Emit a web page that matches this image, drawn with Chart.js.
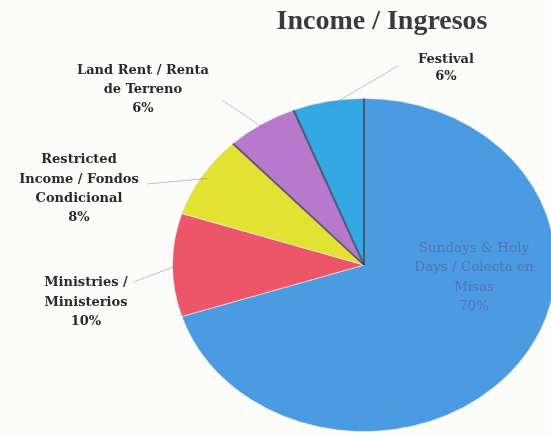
<!DOCTYPE html>
<html>
<head>
<meta charset="utf-8">
<script src="https://cdn.jsdelivr.net/npm/chart.js@4"></script>
<style>
	html, body { margin: 0; padding: 0; background: #fcfcfb; overflow: hidden; }
	#wrap { width: 600px; height: 500px; }
</style>
</head>
<body>
<div id="wrap"><canvas id="pieChart" width="600" height="500"></canvas></div>
<script>
// data
var categories = [ "Sundays & Holy Days / Colecta en Misas", "Ministries / Ministerios",
		"Restricted Income / Fondos Condicional", "Land Rent / Renta de Terreno", "Festival" ];
var shares = [ 70, 10, 8, 6, 6 ];
var labelLines = [ [ "Sundays & Holy", "Days / Colecta en", "Misas" ],
		[ "Ministries /", "Ministerios" ],
		[ "Restricted", "Income / Fondos", "Condicional" ],
		[ "Land Rent / Renta", "de Terreno" ],
		[ "Festival" ] ];
var chartTitle = "Income / Ingresos";

// layout of the label blocks (center x, first line y, line step) and leader line ends
var labelPos = [
	{ x : 474, y : 248, step : 19.5, inside : true },
	{ x : 86, y : 283, step : 19.5, lx : 134, ly : 282 },
	{ x : 79, y : 160, step : 19.3, lx : 147, ly : 184 },
	{ x : 143, y : 71, step : 19, lx : 222, ly : 100 },
	{ x : 446, y : 60, step : 17, lx : 398, ly : 66 }
];
var colors = [ '#4b9be2', '#ec5668', '#e2e232', '#b878cc', '#33a8e2' ];
var darkEdges = [ 0, 3, 4 ]; // slices whose starting edge shows a dark line in the scan
var squash = 0.87; // the scanned pie is a bit flatter than a circle

var ellipsePlugin = {
	id : 'ellipse',
	beforeDatasetsDraw : function(chart) {
		var arc = chart.getDatasetMeta(0).data[0];
		var ctx = chart.ctx;
		ctx.save();
		ctx.translate(arc.x, arc.y);
		ctx.scale(1, squash);
		ctx.translate(-arc.x, -arc.y);
	},
	afterDatasetsDraw : function(chart) {
		var ctx = chart.ctx;
		var meta = chart.getDatasetMeta(0);
		ctx.strokeStyle = 'rgba(40, 60, 80, 0.75)';
		ctx.lineWidth = 2;
		darkEdges.forEach(function(i) {
			var el = meta.data[i];
			ctx.beginPath();
			ctx.moveTo(el.x, el.y);
			ctx.lineTo(el.x + el.outerRadius * Math.cos(el.startAngle), el.y + el.outerRadius * Math.sin(el.startAngle));
			ctx.stroke();
		});
		ctx.restore();
	}
};

var labelPlugin = {
	id : 'sliceLabels',
	afterDraw : function(chart) {
		var ctx = chart.ctx;
		var meta = chart.getDatasetMeta(0);
		ctx.save();
		ctx.textAlign = 'center';
		ctx.textBaseline = 'middle';

		// title
		ctx.fillStyle = '#3b3b3b';
		ctx.font = 'bold 28px "Liberation Serif", serif';
		ctx.fillText(chartTitle, 382, 22);

		for (var i = 0; i < shares.length; i++) {
			var el = meta.data[i];
			var p = labelPos[i];
			var lines = labelLines[i].concat([ shares[i] + "%" ]);
			if (p.inside) {
				ctx.fillStyle = 'rgba(85, 100, 165, 0.7)';
				ctx.font = '13.5px "DejaVu Serif", serif';
			} else {
				// leader line to the edge of the slice
				var mid = (el.startAngle + el.endAngle) / 2;
				var r = el.outerRadius * 0.97;
				ctx.strokeStyle = 'rgba(120, 120, 130, 0.45)';
				ctx.lineWidth = 1;
				ctx.beginPath();
				ctx.moveTo(p.lx, p.ly);
				ctx.lineTo(el.x + r * Math.cos(mid), el.y + r * Math.sin(mid) * squash);
				ctx.stroke();
				ctx.fillStyle = '#2a2a2a';
				ctx.font = 'bold 13px "DejaVu Serif", serif';
			}
			for (var j = 0; j < lines.length; j++) {
				ctx.fillText(lines[j], p.x, p.y + j * p.step);
			}
		}
		ctx.restore();
	}
};

var ctxP = document.getElementById("pieChart").getContext('2d');
var myPieChart = new Chart(ctxP, {
	type : 'pie',
	data : {
		labels : categories,
		datasets : [ {
			data : shares,
			backgroundColor : colors,
			borderColor : 'rgba(235, 235, 240, 0.7)',
			borderWidth : 1
		} ]
	},
	options : {
		responsive : false,
		animation : false,
		layout : {
			padding : { left : 172, right : 44, top : 73, bottom : 43 }
		},
		plugins : {
			legend : { display : false },
			tooltip : { enabled : false }
		}
	},
	plugins : [ ellipsePlugin, labelPlugin ]
});
</script>
</body>
</html>
